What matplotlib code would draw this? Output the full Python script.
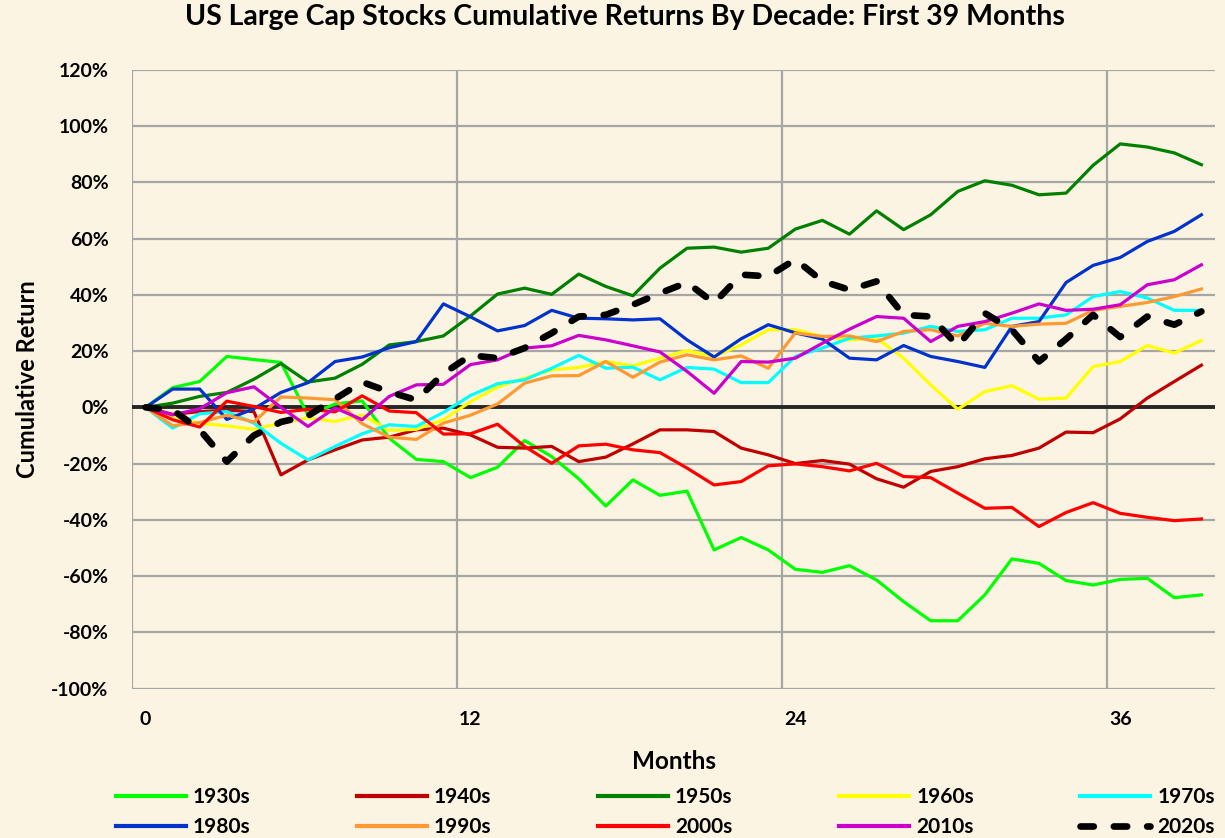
import matplotlib
matplotlib.use("Agg")
import matplotlib.pyplot as plt
import numpy as np

plt.rcParams['font.family'] = ['Lato', 'DejaVu Sans']
plt.rcParams['font.weight'] = 'bold'

# ================================
# Data (cumulative return, %)
# ================================
months = np.arange(40)
decades = ["1930s", "1940s", "1950s", "1960s", "1970s",
           "1980s", "1990s", "2000s", "2010s", "2020s"]

r1930 = [0, 7.0, 9.2, 18.1, 17.0, 16.0, -2.8, 1.2, 2.3, -11.0,
         -18.5, -19.3, -25.0, -21.3, -11.8, -17.5, -25.4, -35.1, -25.8, -31.3,
         -29.8, -50.7, -46.3, -50.7, -57.6, -58.7, -56.3, -61.4, -69.1, -75.9,
         -75.9, -66.7, -53.9, -55.5, -61.6, -63.2, -61.2, -60.8, -67.7, -66.7]
r1940 = [0, -2.5, -1.5, -1.0, -1.5, -24.0, -18.7, -15.1, -11.6, -10.6,
         -8.0, -7.4, -9.8, -14.2, -14.5, -13.9, -19.3, -17.7, -13.0, -8.0,
         -8.0, -8.6, -14.5, -16.9, -20.0, -18.9, -20.2, -25.4, -28.4, -22.8,
         -21.1, -18.3, -17.1, -14.5, -8.8, -9.0, -4.1, 3.3, 9.2, 15.0]
r1950 = [0, 1.5, 3.9, 5.3, 10.0, 15.6, 9.0, 10.4, 15.3, 22.2,
         23.4, 25.4, 32.5, 40.3, 42.4, 40.2, 47.4, 43.0, 39.7, 49.5,
         56.6, 57.0, 55.2, 56.6, 63.4, 66.5, 61.6, 69.9, 63.2, 68.5,
         76.8, 80.6, 79.0, 75.6, 76.2, 86.1, 93.7, 92.6, 90.5, 86.3]
r1960 = [0, -3.9, -5.6, -6.6, -7.8, -5.6, -3.7, -5.0, -2.7, -8.2,
         -7.8, -4.4, 2.0, 7.2, 10.4, 13.3, 14.2, 16.3, 14.8, 17.5,
         20.2, 18.1, 22.2, 27.6, 27.6, 25.2, 24.0, 24.6, 17.5, 8.0,
         -0.7, 5.6, 7.7, 2.9, 3.3, 14.5, 16.3, 22.0, 19.3, 23.8]
r1970 = [0, -7.4, -2.3, -1.5, -5.6, -12.8, -18.7, -13.9, -9.4, -6.2,
         -6.8, -1.8, 4.2, 8.4, 9.8, 13.9, 18.5, 13.9, 14.3, 9.8,
         14.2, 13.6, 8.8, 8.8, 18.1, 21.1, 24.6, 25.4, 26.4, 28.8,
         27.0, 27.6, 31.7, 31.7, 32.9, 39.4, 41.2, 38.9, 34.5, 34.5]
r1980 = [0, 6.5, 6.5, -4.3, -0.5, 5.3, 8.8, 16.3, 17.9, 21.2,
         23.4, 36.8, 32.2, 27.2, 29.1, 34.5, 31.7, 31.5, 31.1, 31.5,
         24.0, 17.9, 24.4, 29.4, 26.5, 24.3, 17.5, 16.9, 22.0, 18.1,
         16.3, 14.2, 28.8, 30.5, 44.4, 50.5, 53.3, 59.0, 62.6, 68.5]
r1990 = [0, -6.5, -5.4, -2.8, -5.2, 3.7, 3.3, 2.7, -5.8, -10.6,
         -11.4, -5.6, -2.8, 1.2, 8.6, 11.2, 11.3, 16.3, 10.7, 16.1,
         18.7, 16.9, 18.3, 13.9, 26.5, 25.2, 25.4, 23.4, 27.0, 27.6,
         25.4, 29.9, 28.8, 29.6, 29.9, 34.5, 35.9, 37.3, 39.4, 42.1]
r2000 = [0, -4.4, -7.0, 2.2, 0.3, -1.8, -0.7, -1.6, 4.1, -1.3,
         -1.9, -9.5, -9.4, -6.0, -13.9, -19.9, -13.7, -13.1, -15.1, -16.1,
         -21.6, -27.6, -26.4, -20.8, -20.1, -21.1, -22.6, -19.9, -24.6, -25.0,
         -30.5, -35.9, -35.6, -42.4, -37.4, -33.9, -37.7, -39.1, -40.3, -39.7]
r2010 = [0, -2.7, -0.5, 5.2, 7.3, 0, -6.8, -0.2, -4.4, 3.9,
         8.0, 8.2, 15.2, 16.9, 21.1, 21.9, 25.6, 24.0, 21.9, 19.7,
         12.8, 5.0, 16.3, 16.1, 17.5, 22.8, 27.8, 32.3, 31.7, 23.4,
         28.8, 30.5, 33.5, 36.8, 34.5, 34.9, 36.5, 43.6, 45.4, 50.7]
r2020 = [0, -0.9, -8.0, -19.3, -10.0, -5.2, -3.0, 3.0, 9.0, 5.5,
         2.6, 12.0, 18.5, 17.5, 21.1, 26.4, 32.3, 32.9, 36.5, 40.6,
         44.4, 37.1, 47.2, 46.6, 52.6, 44.9, 41.8, 44.8, 32.9, 32.3,
         21.9, 33.5, 27.6, 16.3, 24.3, 32.9, 25.0, 32.3, 29.4, 34.1]

series = [r1930, r1940, r1950, r1960, r1970, r1980, r1990, r2000, r2010, r2020]
colors = ["#00FF00", "#C00000", "#008000", "#FFFF00", "#00FFFF",
          "#0033CC", "#FF9933", "#FF0000", "#CC00CC", "#000000"]

y_ticks = np.arange(-100, 121, 20)
x_ticks = [0, 12, 24, 36]

bg = "#FCF4E2"
grid_c = "#A6A6A6"

# ================================
# Plot
# ================================
fig = plt.figure(figsize=(12.25, 8.38), dpi=100, facecolor=bg)
ax = fig.add_axes([0.1078, 0.1784, 0.8840, 0.7381])
ax.set_facecolor(bg)

for y in y_ticks:
    if y == 0:
        continue
    ax.axhline(y, color=grid_c, lw=1.6, zorder=1)
for x in [-0.5, 11.5, 23.5, 35.5]:
    ax.axvline(x, color=grid_c, lw=1.6, zorder=1)
ax.axhline(0, color="#262626", lw=2.8, zorder=2)

lines = []
for name, vals, c in zip(decades, series, colors):
    if name == "2020s":
        ln, = ax.plot(months, vals, color=c, lw=4.8, dashes=(2.0, 3.0),
                      dash_capstyle="round", zorder=5, label=name)
    else:
        ln, = ax.plot(months, vals, color=c, lw=2.3, zorder=3, label=name)
    lines.append(ln)

ax.set_xlim(-0.5, 39.5)
ax.set_ylim(-100, 120)
ax.set_xticks(x_ticks)
ax.set_xticklabels([str(x) for x in x_ticks])
ax.set_yticks(y_ticks)
ax.set_yticklabels([f"{y}%" for y in y_ticks])
ax.tick_params(axis="both", length=0, labelsize=14)
ax.tick_params(axis="y", pad=17)
ax.tick_params(axis="x", pad=16)
for s in ax.spines.values():
    s.set_visible(False)

ax.set_xlabel("Months", fontsize=17.5, fontweight="bold", labelpad=16)
ax.set_ylabel("Cumulative Return", fontsize=17, fontweight="bold", labelpad=9)
fig.suptitle("US Large Cap Stocks Cumulative Returns By Decade: First 39 Months",
             fontsize=20.5, fontweight="bold", x=0.51, y=0.995, va="top")

order = [0, 5, 1, 6, 2, 7, 3, 8, 4, 9]
leg = fig.legend([lines[i] for i in order], [decades[i] for i in order],
                 loc="lower center", bbox_to_anchor=(0.543, -0.021), ncol=5,
                 frameon=False, fontsize=15, handlelength=3.37, handletextpad=0.34,
                 columnspacing=5.1, labelspacing=0.45)
for ln in leg.get_lines():
    if ln.get_color() != "#000000":
        ln.set_linewidth(3.0)

plt.savefig("out.png", dpi=100, facecolor=bg)
